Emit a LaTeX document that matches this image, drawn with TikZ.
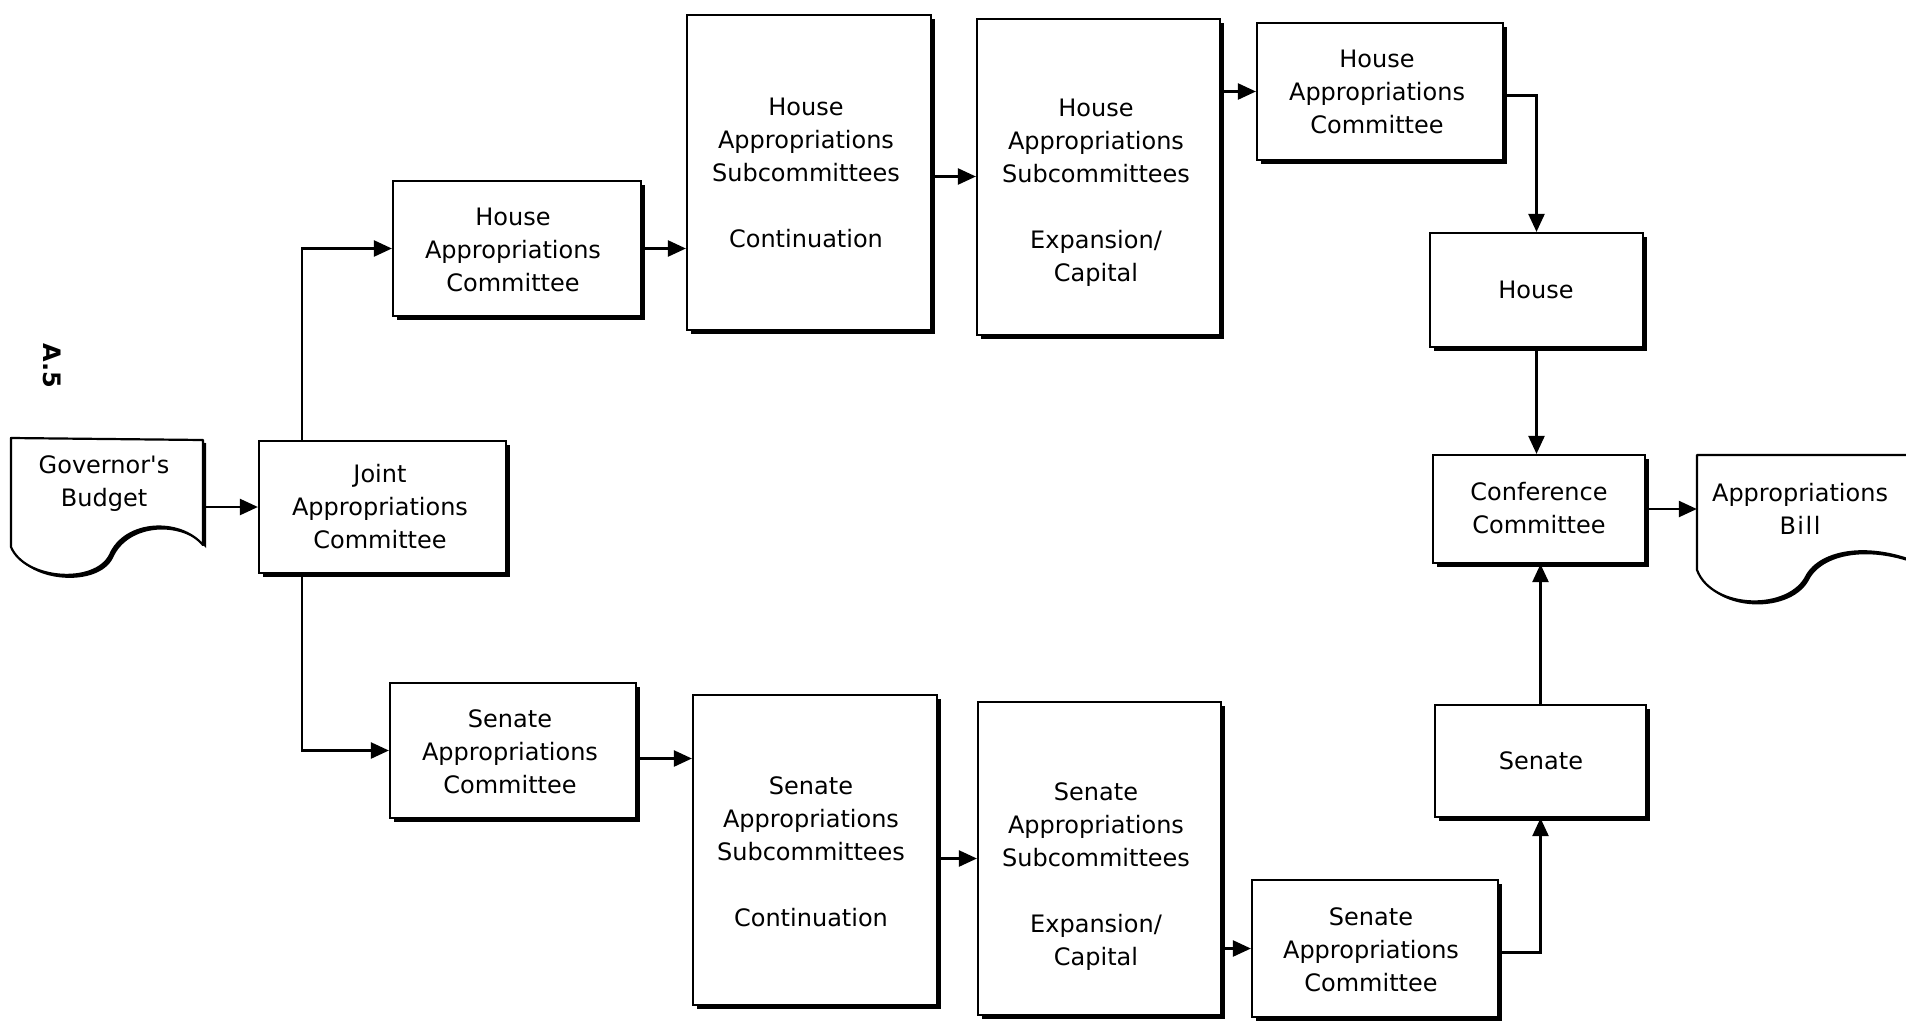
\documentclass[tikz,border=0pt]{standalone}
\usepackage{fontspec}
\setmainfont{DejaVu Sans}[Ligatures=TeXOff]
\usetikzlibrary{arrows.meta,shadows,fit}
\begin{document}
\begin{tikzpicture}[x=1pt,y=-1pt,
  box/.style={draw, line width=2.2pt, fill=white, inner sep=0pt,
    general shadow={fill=black, shadow xshift=4pt, shadow yshift=-4pt}},
  anchorbox/.style={inner sep=0pt, draw=none},
  doc/.style={draw, line width=2.2pt, fill=white, line join=round,
    general shadow={fill=black, shadow xshift=3pt, shadow yshift=-3pt}},
  txt/.style={align=center, font=\fontsize{24}{33}\selectfont, inner sep=0pt},
  arr/.style={line width=2.4pt, -{Triangle[length=18pt,width=16pt]}}
]
\useasboundingbox (0,0) rectangle (1906,1023);
\fill[white] (0,0) rectangle (1906,1023);

% page label
\node[font=\bfseries\fontsize{24}{24}\selectfont, rotate=-90, inner sep=0pt] (pagelabel) at (52,366) {A.5};

% documents
\draw[doc] (11,547) -- (11,438) -- (203,440) -- (203,545)
  .. controls (180,518) and (125,520) .. (110,555)
  .. controls (95,585) and (25,580) .. (11,547) -- cycle;
\node[anchorbox, fit={(11,438) (203,545)}] (gov) {};
\node[txt] (govt) at (104,484) {Governor's\\Budget};

\begin{scope}
\clip (0,0) rectangle (1906,1023);
\draw[doc] (1697,570) -- (1697,455) -- (1950,455) -- (1950,580)
  .. controls (1890,540) and (1825,545) .. (1807,575)
  .. controls (1790,612) and (1712,610) .. (1697,570) -- cycle;
\end{scope}
\node[anchorbox, fit={(1697,455) (1906,570)}] (bill) {};
\node[txt] (billt) at (1800,509) {Appropriations\\B\kern1.5pt i\kern1.5pt l\kern1.5pt l};

% boxes
\node[box, fit={(259,441) (506,573)}] (joint) {};
\node[box, fit={(393,181) (641,316)}] (hac1) {};
\node[box, fit={(687,15) (931,330)}] (hsc) {};
\node[box, fit={(977,19) (1220,335)}] (hse) {};
\node[box, fit={(1257,23) (1503,160)}] (hac2) {};
\node[box, fit={(1430,233) (1643,347)}] (house) {};
\node[box, fit={(1433,455) (1645,563)}] (conf) {};
\node[box, fit={(1435,705) (1646,817)}] (senate) {};
\node[box, fit={(1252,880) (1498,1017)}] (sac2) {};
\node[box, fit={(978,702) (1221,1015)}] (sse) {};
\node[box, fit={(693,695) (937,1005)}] (ssc) {};
\node[box, fit={(390,683) (636,818)}] (sac1) {};

% texts
\node[txt] (jointt) at (380,507) {Joint\\Appropriations\\Committee};
\node[txt] (hac1t) at (513,250) {House\\Appropriations\\Committee};
\node[txt] (hsct) at (806,173) {House\\Appropriations\\Subcommittees\\[33pt]Continuation};
\node[txt] (hset) at (1096,193) {House\\Appropriations\\Subcommittees\\[33pt]Expansion/\\Capital};
\node[txt] (hac2t) at (1377,92) {House\\Appropriations\\Committee};
\node[txt] (houset) at (1536,290) {House};
\node[txt] (conft) at (1539,508) {Conference\\Committee};
\node[txt] (senatet) at (1541,761) {Senate};
\node[txt] (sac2t) at (1371,950) {Senate\\Appropriations\\Committee};
\node[txt] (sset) at (1096,877) {Senate\\Appropriations\\Subcommittees\\[33pt]Expansion/\\Capital};
\node[txt] (ssct) at (811,852) {Senate\\Appropriations\\Subcommittees\\[33pt]Continuation};
\node[txt] (sac1t) at (510,752) {Senate\\Appropriations\\Committee};

% connectors
\coordinate (vx) at (302,0);
\draw[arr] (gov.east |- joint.west) -- (joint.west);
\draw[arr] (joint.north -| vx) |- (hac1.west);
\draw[arr] (joint.south -| vx) |- (sac1.west);
\draw[arr] (hac1.east) -- (hac1.east -| hsc.west);
\draw[arr] ([yshift=-4pt]hsc.east) -- ([yshift=-4pt]hsc.east -| hse.west);
\draw[arr] (hac2.west -| hse.east) -- (hac2.west);
\draw[arr] ([yshift=-4pt]hac2.east) -| (house.north);
\draw[arr] (house.south) -- (house.south |- conf.north);
\draw[arr] (senate.north) -- (senate.north |- conf.south);
\draw[arr] (conf.east) -- (conf.east -| bill.west);
\draw[arr] ([yshift=-4pt]sac2.east) -| (senate.south);
\draw[arr] (sac2.west -| sse.east) -- (sac2.west);
\draw[arr] (sse.west -| ssc.east) -- (sse.west);
\draw[arr] ([yshift=-8pt]sac1.east) -- ([yshift=-8pt]sac1.east -| ssc.west);
\end{tikzpicture}
\end{document}
